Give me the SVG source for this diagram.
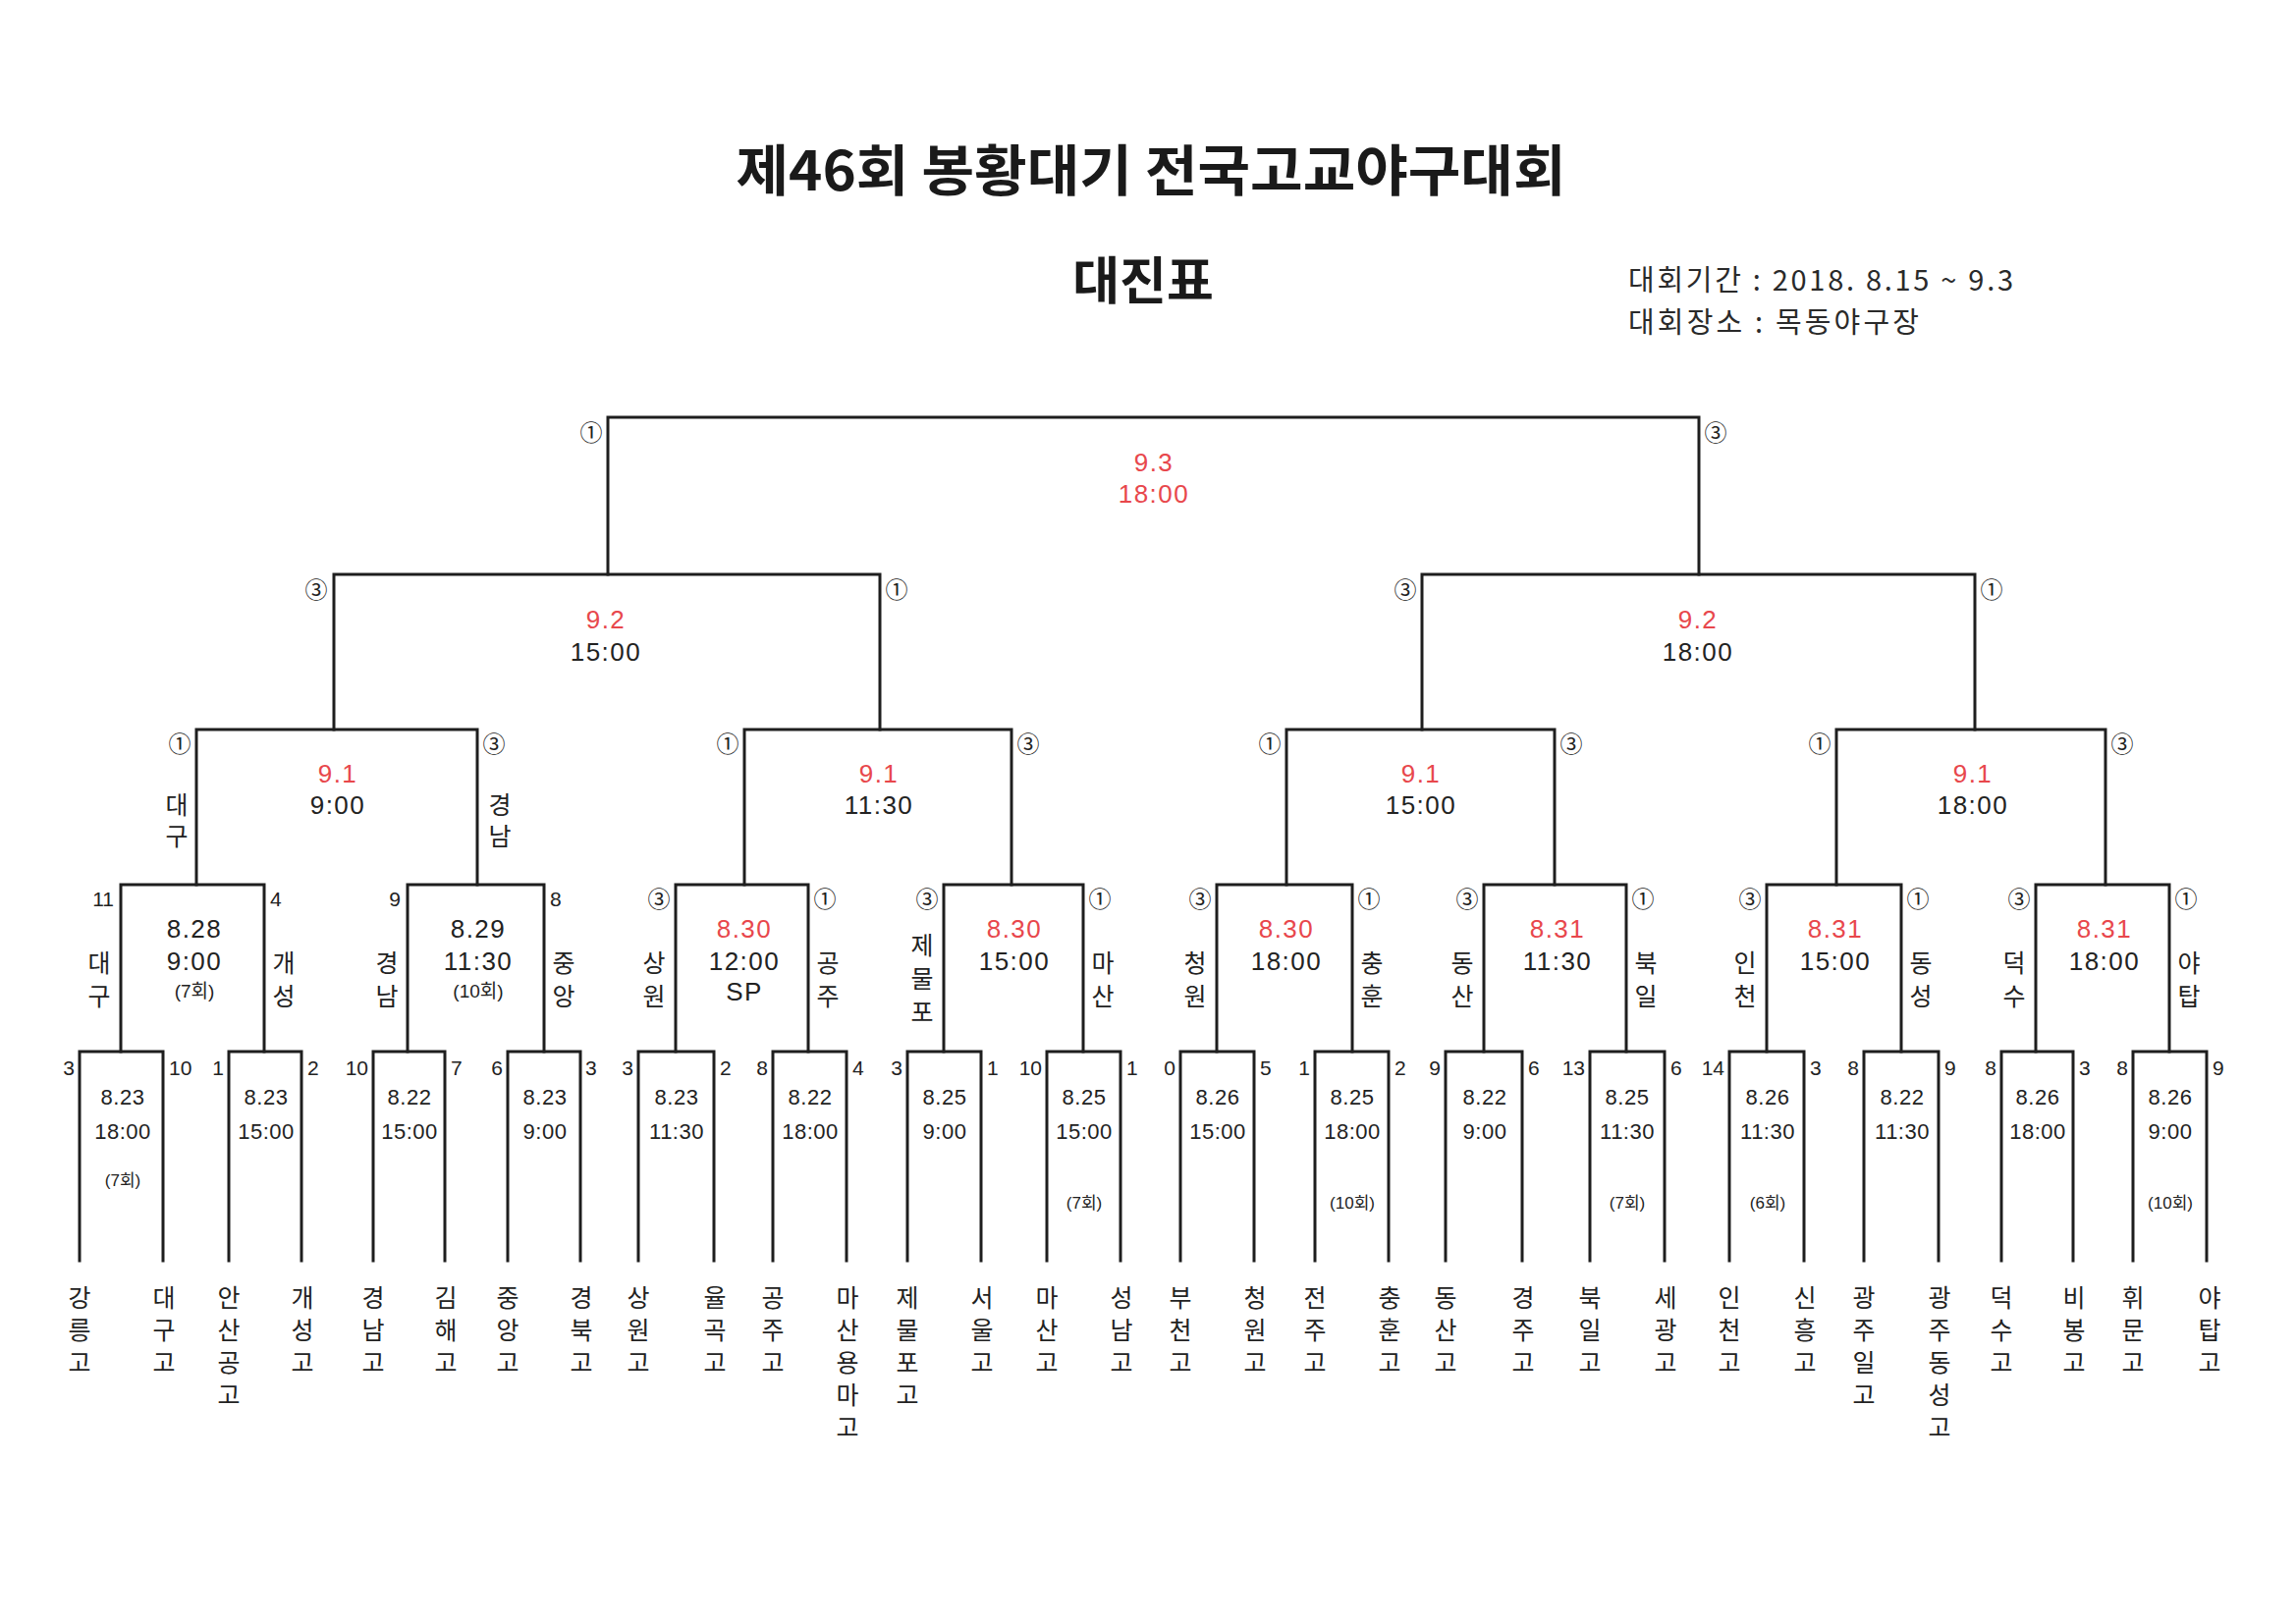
<svg xmlns="http://www.w3.org/2000/svg" width="2338" height="1653" viewBox="0 0 2338 1653">
<style>
text{font-family:'Liberation Sans','Noto Sans CJK KR',sans-serif;fill:#222;text-anchor:middle}
.ln{fill:none;stroke:#1e1e1e;stroke-width:3;stroke-linecap:square;stroke-linejoin:miter}
.ko{font-family:'Noto Sans CJK KR',sans-serif;font-size:25px}
.c{font-family:'Noto Sans CJK KR','DejaVu Sans',sans-serif;font-size:23px}
.s{font-size:21px}
.e{text-anchor:end}
.st{text-anchor:start}
.d1{font-size:22px;letter-spacing:0.5px}
.d2{font-size:26px;letter-spacing:1.5px}
.i1{font-size:17px}
.i2{font-size:19px}
.r{fill:#e8474c}
.t{font-family:'Noto Sans CJK KR',sans-serif;font-weight:700;fill:#1a1a1a}
.h{font-family:'Noto Sans CJK KR',sans-serif;font-size:29px;text-anchor:start;fill:#2a2a2a}
</style>
<rect width="2338" height="1653" fill="#fff"/>
<g id="header">
<text class="t" x="1172" y="194" font-size="56" textLength="845" lengthAdjust="spacingAndGlyphs">제46회 봉황대기 전국고교야구대회</text>
<text class="t" x="1164" y="305" font-size="52">대진표</text>
<text class="h" x="1658" y="296" textLength="392" lengthAdjust="spacing">대회기간 : 2018. 8.15 ~ 9.3</text>
<text class="h" x="1658" y="339" textLength="296" lengthAdjust="spacing">대회장소 : 목동야구장</text>
</g>
<g id="connectors">
<path class="ln" d="M619 585V425H1730V585"/>
<path class="ln" d="M340 743V585H896V743"/>
<path class="ln" d="M1448 743V585H2011V743"/>
<path class="ln" d="M200 901V743H486V901"/>
<path class="ln" d="M758 901V743H1030V901"/>
<path class="ln" d="M1310 901V743H1583V901"/>
<path class="ln" d="M1870 901V743H2144V901"/>
<path class="ln" d="M123 1071V901H269V1071"/>
<path class="ln" d="M415 1071V901H554V1071"/>
<path class="ln" d="M688 1071V901H823V1071"/>
<path class="ln" d="M961 1071V901H1103V1071"/>
<path class="ln" d="M1239 1071V901H1377V1071"/>
<path class="ln" d="M1511 1071V901H1656V1071"/>
<path class="ln" d="M1799 1071V901H1936V1071"/>
<path class="ln" d="M2073 1071V901H2209V1071"/>
<path class="ln" d="M81 1284V1071H166V1284"/>
<path class="ln" d="M233 1284V1071H307V1284"/>
<path class="ln" d="M380 1284V1071H453V1284"/>
<path class="ln" d="M517 1284V1071H591V1284"/>
<path class="ln" d="M650 1284V1071H727V1284"/>
<path class="ln" d="M787 1284V1071H862V1284"/>
<path class="ln" d="M924 1284V1071H999V1284"/>
<path class="ln" d="M1066 1284V1071H1141V1284"/>
<path class="ln" d="M1202 1284V1071H1277V1284"/>
<path class="ln" d="M1339 1284V1071H1414V1284"/>
<path class="ln" d="M1472 1284V1071H1550V1284"/>
<path class="ln" d="M1619 1284V1071H1695V1284"/>
<path class="ln" d="M1761 1284V1071H1837V1284"/>
<path class="ln" d="M1898 1284V1071H1974V1284"/>
<path class="ln" d="M2038 1284V1071H2111V1284"/>
<path class="ln" d="M2172 1284V1071H2247V1284"/>
</g>
<g id="final">
<text class="c" x="602" y="449">①</text><text class="c" x="1747" y="449">③</text>
<text class="d2 r" x="1175" y="480">9.3</text><text class="d2 r" x="1175" y="512">18:00</text>
</g>
<g id="semi-1">
<text class="c" x="322" y="609">③</text><text class="c" x="913" y="609">①</text>
<text class="d2 r" x="617" y="640">9.2</text><text class="d2" x="617" y="673">15:00</text>
</g>
<g id="semi-2">
<text class="c" x="1431" y="609">③</text><text class="c" x="2028" y="609">①</text>
<text class="d2 r" x="1729" y="640">9.2</text><text class="d2" x="1729" y="673">18:00</text>
</g>
<g id="qf-1">
<text class="c" x="183" y="766">①</text><text class="c" x="503" y="766">③</text>
<text class="d2 r" x="344" y="797">9.1</text><text class="d2" x="344" y="829">9:00</text>
<text class="ko" x="180" y="829">대</text><text class="ko" x="180" y="861">구</text>
<text class="ko" x="509" y="829">경</text><text class="ko" x="509" y="861">남</text>
</g>
<g id="qf-2">
<text class="c" x="741" y="766">①</text><text class="c" x="1047" y="766">③</text>
<text class="d2 r" x="895" y="797">9.1</text><text class="d2" x="895" y="829">11:30</text>
</g>
<g id="qf-3">
<text class="c" x="1293" y="766">①</text><text class="c" x="1600" y="766">③</text>
<text class="d2 r" x="1447" y="797">9.1</text><text class="d2" x="1447" y="829">15:00</text>
</g>
<g id="qf-4">
<text class="c" x="1853" y="766">①</text><text class="c" x="2161" y="766">③</text>
<text class="d2 r" x="2009" y="797">9.1</text><text class="d2" x="2009" y="829">18:00</text>
</g>
<g id="r16-1">
<text class="s e" x="116" y="923">11</text><text class="s st" x="275" y="923">4</text>
<text class="d2" x="198" y="955">8.28</text><text class="d2" x="198" y="988">9:00</text><text class="i2" x="198" y="1016">(7회)</text>
<text class="ko" x="101" y="990">대</text><text class="ko" x="101" y="1024">구</text>
<text class="ko" x="289" y="990">개</text><text class="ko" x="289" y="1024">성</text>
</g>
<g id="r16-2">
<text class="s e" x="408" y="923">9</text><text class="s st" x="560" y="923">8</text>
<text class="d2" x="487" y="955">8.29</text><text class="d2" x="487" y="988">11:30</text><text class="i2" x="487" y="1016">(10회)</text>
<text class="ko" x="394" y="990">경</text><text class="ko" x="394" y="1024">남</text>
<text class="ko" x="574" y="990">중</text><text class="ko" x="574" y="1024">앙</text>
</g>
<g id="r16-3">
<text class="c" x="671" y="924">③</text><text class="c" x="840" y="924">①</text>
<text class="d2 r" x="758" y="955">8.30</text><text class="d2" x="758" y="988">12:00</text><text class="d2" x="758" y="1019">SP</text>
<text class="ko" x="666" y="990">상</text><text class="ko" x="666" y="1024">원</text>
<text class="ko" x="843" y="990">공</text><text class="ko" x="843" y="1024">주</text>
</g>
<g id="r16-4">
<text class="c" x="944" y="924">③</text><text class="c" x="1120" y="924">①</text>
<text class="d2 r" x="1033" y="955">8.30</text><text class="d2" x="1033" y="988">15:00</text>
<text class="ko" x="939" y="972">제</text><text class="ko" x="939" y="1006">물</text><text class="ko" x="939" y="1040">포</text>
<text class="ko" x="1123" y="990">마</text><text class="ko" x="1123" y="1024">산</text>
</g>
<g id="r16-5">
<text class="c" x="1222" y="924">③</text><text class="c" x="1394" y="924">①</text>
<text class="d2 r" x="1310" y="955">8.30</text><text class="d2" x="1310" y="988">18:00</text>
<text class="ko" x="1217" y="990">청</text><text class="ko" x="1217" y="1024">원</text>
<text class="ko" x="1397" y="990">충</text><text class="ko" x="1397" y="1024">훈</text>
</g>
<g id="r16-6">
<text class="c" x="1494" y="924">③</text><text class="c" x="1673" y="924">①</text>
<text class="d2 r" x="1586" y="955">8.31</text><text class="d2" x="1586" y="988">11:30</text>
<text class="ko" x="1489" y="990">동</text><text class="ko" x="1489" y="1024">산</text>
<text class="ko" x="1676" y="990">북</text><text class="ko" x="1676" y="1024">일</text>
</g>
<g id="r16-7">
<text class="c" x="1782" y="924">③</text><text class="c" x="1953" y="924">①</text>
<text class="d2 r" x="1869" y="955">8.31</text><text class="d2" x="1869" y="988">15:00</text>
<text class="ko" x="1777" y="990">인</text><text class="ko" x="1777" y="1024">천</text>
<text class="ko" x="1956" y="990">동</text><text class="ko" x="1956" y="1024">성</text>
</g>
<g id="r16-8">
<text class="c" x="2056" y="924">③</text><text class="c" x="2226" y="924">①</text>
<text class="d2 r" x="2143" y="955">8.31</text><text class="d2" x="2143" y="988">18:00</text>
<text class="ko" x="2051" y="990">덕</text><text class="ko" x="2051" y="1024">수</text>
<text class="ko" x="2229" y="990">야</text><text class="ko" x="2229" y="1024">탑</text>
</g>
<g id="r32-1"><text class="s e" x="76" y="1095">3</text><text class="s st" x="172" y="1095">10</text><text class="d1" x="125" y="1125">8.23</text><text class="d1" x="125" y="1160">18:00</text><text class="i1" x="125" y="1208">(7회)</text></g>
<g id="r32-2"><text class="s e" x="228" y="1095">1</text><text class="s st" x="313" y="1095">2</text><text class="d1" x="271" y="1125">8.23</text><text class="d1" x="271" y="1160">15:00</text></g>
<g id="r32-3"><text class="s e" x="375" y="1095">10</text><text class="s st" x="459" y="1095">7</text><text class="d1" x="417" y="1125">8.22</text><text class="d1" x="417" y="1160">15:00</text></g>
<g id="r32-4"><text class="s e" x="512" y="1095">6</text><text class="s st" x="596" y="1095">3</text><text class="d1" x="555" y="1125">8.23</text><text class="d1" x="555" y="1160">9:00</text></g>
<g id="r32-5"><text class="s e" x="645" y="1095">3</text><text class="s st" x="733" y="1095">2</text><text class="d1" x="689" y="1125">8.23</text><text class="d1" x="689" y="1160">11:30</text></g>
<g id="r32-6"><text class="s e" x="782" y="1095">8</text><text class="s st" x="868" y="1095">4</text><text class="d1" x="825" y="1125">8.22</text><text class="d1" x="825" y="1160">18:00</text></g>
<g id="r32-7"><text class="s e" x="919" y="1095">3</text><text class="s st" x="1005" y="1095">1</text><text class="d1" x="962" y="1125">8.25</text><text class="d1" x="962" y="1160">9:00</text></g>
<g id="r32-8"><text class="s e" x="1061" y="1095">10</text><text class="s st" x="1147" y="1095">1</text><text class="d1" x="1104" y="1125">8.25</text><text class="d1" x="1104" y="1160">15:00</text><text class="i1" x="1104" y="1231">(7회)</text></g>
<g id="r32-9"><text class="s e" x="1197" y="1095">0</text><text class="s st" x="1283" y="1095">5</text><text class="d1" x="1240" y="1125">8.26</text><text class="d1" x="1240" y="1160">15:00</text></g>
<g id="r32-10"><text class="s e" x="1334" y="1095">1</text><text class="s st" x="1420" y="1095">2</text><text class="d1" x="1377" y="1125">8.25</text><text class="d1" x="1377" y="1160">18:00</text><text class="i1" x="1377" y="1231">(10회)</text></g>
<g id="r32-11"><text class="s e" x="1467" y="1095">9</text><text class="s st" x="1556" y="1095">6</text><text class="d1" x="1512" y="1125">8.22</text><text class="d1" x="1512" y="1160">9:00</text></g>
<g id="r32-12"><text class="s e" x="1614" y="1095">13</text><text class="s st" x="1701" y="1095">6</text><text class="d1" x="1657" y="1125">8.25</text><text class="d1" x="1657" y="1160">11:30</text><text class="i1" x="1657" y="1231">(7회)</text></g>
<g id="r32-13"><text class="s e" x="1756" y="1095">14</text><text class="s st" x="1843" y="1095">3</text><text class="d1" x="1800" y="1125">8.26</text><text class="d1" x="1800" y="1160">11:30</text><text class="i1" x="1800" y="1231">(6회)</text></g>
<g id="r32-14"><text class="s e" x="1893" y="1095">8</text><text class="s st" x="1980" y="1095">9</text><text class="d1" x="1937" y="1125">8.22</text><text class="d1" x="1937" y="1160">11:30</text></g>
<g id="r32-15"><text class="s e" x="2033" y="1095">8</text><text class="s st" x="2117" y="1095">3</text><text class="d1" x="2075" y="1125">8.26</text><text class="d1" x="2075" y="1160">18:00</text></g>
<g id="r32-16"><text class="s e" x="2167" y="1095">8</text><text class="s st" x="2253" y="1095">9</text><text class="d1" x="2210" y="1125">8.26</text><text class="d1" x="2210" y="1160">9:00</text><text class="i1" x="2210" y="1231">(10회)</text></g>
<g id="teams">
<text class="ko" x="81" y="1331"><tspan x="81">강</tspan><tspan x="81" dy="33">릉</tspan><tspan x="81" dy="33">고</tspan></text>
<text class="ko" x="167" y="1331"><tspan x="167">대</tspan><tspan x="167" dy="33">구</tspan><tspan x="167" dy="33">고</tspan></text>
<text class="ko" x="233" y="1331"><tspan x="233">안</tspan><tspan x="233" dy="33">산</tspan><tspan x="233" dy="33">공</tspan><tspan x="233" dy="33">고</tspan></text>
<text class="ko" x="308" y="1331"><tspan x="308">개</tspan><tspan x="308" dy="33">성</tspan><tspan x="308" dy="33">고</tspan></text>
<text class="ko" x="380" y="1331"><tspan x="380">경</tspan><tspan x="380" dy="33">남</tspan><tspan x="380" dy="33">고</tspan></text>
<text class="ko" x="454" y="1331"><tspan x="454">김</tspan><tspan x="454" dy="33">해</tspan><tspan x="454" dy="33">고</tspan></text>
<text class="ko" x="517" y="1331"><tspan x="517">중</tspan><tspan x="517" dy="33">앙</tspan><tspan x="517" dy="33">고</tspan></text>
<text class="ko" x="592" y="1331"><tspan x="592">경</tspan><tspan x="592" dy="33">북</tspan><tspan x="592" dy="33">고</tspan></text>
<text class="ko" x="650" y="1331"><tspan x="650">상</tspan><tspan x="650" dy="33">원</tspan><tspan x="650" dy="33">고</tspan></text>
<text class="ko" x="728" y="1331"><tspan x="728">율</tspan><tspan x="728" dy="33">곡</tspan><tspan x="728" dy="33">고</tspan></text>
<text class="ko" x="787" y="1331"><tspan x="787">공</tspan><tspan x="787" dy="33">주</tspan><tspan x="787" dy="33">고</tspan></text>
<text class="ko" x="863" y="1331"><tspan x="863">마</tspan><tspan x="863" dy="33">산</tspan><tspan x="863" dy="33">용</tspan><tspan x="863" dy="33">마</tspan><tspan x="863" dy="33">고</tspan></text>
<text class="ko" x="924" y="1331"><tspan x="924">제</tspan><tspan x="924" dy="33">물</tspan><tspan x="924" dy="33">포</tspan><tspan x="924" dy="33">고</tspan></text>
<text class="ko" x="1000" y="1331"><tspan x="1000">서</tspan><tspan x="1000" dy="33">울</tspan><tspan x="1000" dy="33">고</tspan></text>
<text class="ko" x="1066" y="1331"><tspan x="1066">마</tspan><tspan x="1066" dy="33">산</tspan><tspan x="1066" dy="33">고</tspan></text>
<text class="ko" x="1142" y="1331"><tspan x="1142">성</tspan><tspan x="1142" dy="33">남</tspan><tspan x="1142" dy="33">고</tspan></text>
<text class="ko" x="1202" y="1331"><tspan x="1202">부</tspan><tspan x="1202" dy="33">천</tspan><tspan x="1202" dy="33">고</tspan></text>
<text class="ko" x="1278" y="1331"><tspan x="1278">청</tspan><tspan x="1278" dy="33">원</tspan><tspan x="1278" dy="33">고</tspan></text>
<text class="ko" x="1339" y="1331"><tspan x="1339">전</tspan><tspan x="1339" dy="33">주</tspan><tspan x="1339" dy="33">고</tspan></text>
<text class="ko" x="1415" y="1331"><tspan x="1415">충</tspan><tspan x="1415" dy="33">훈</tspan><tspan x="1415" dy="33">고</tspan></text>
<text class="ko" x="1472" y="1331"><tspan x="1472">동</tspan><tspan x="1472" dy="33">산</tspan><tspan x="1472" dy="33">고</tspan></text>
<text class="ko" x="1551" y="1331"><tspan x="1551">경</tspan><tspan x="1551" dy="33">주</tspan><tspan x="1551" dy="33">고</tspan></text>
<text class="ko" x="1619" y="1331"><tspan x="1619">북</tspan><tspan x="1619" dy="33">일</tspan><tspan x="1619" dy="33">고</tspan></text>
<text class="ko" x="1696" y="1331"><tspan x="1696">세</tspan><tspan x="1696" dy="33">광</tspan><tspan x="1696" dy="33">고</tspan></text>
<text class="ko" x="1761" y="1331"><tspan x="1761">인</tspan><tspan x="1761" dy="33">천</tspan><tspan x="1761" dy="33">고</tspan></text>
<text class="ko" x="1838" y="1331"><tspan x="1838">신</tspan><tspan x="1838" dy="33">흥</tspan><tspan x="1838" dy="33">고</tspan></text>
<text class="ko" x="1898" y="1331"><tspan x="1898">광</tspan><tspan x="1898" dy="33">주</tspan><tspan x="1898" dy="33">일</tspan><tspan x="1898" dy="33">고</tspan></text>
<text class="ko" x="1975" y="1331"><tspan x="1975">광</tspan><tspan x="1975" dy="33">주</tspan><tspan x="1975" dy="33">동</tspan><tspan x="1975" dy="33">성</tspan><tspan x="1975" dy="33">고</tspan></text>
<text class="ko" x="2038" y="1331"><tspan x="2038">덕</tspan><tspan x="2038" dy="33">수</tspan><tspan x="2038" dy="33">고</tspan></text>
<text class="ko" x="2112" y="1331"><tspan x="2112">비</tspan><tspan x="2112" dy="33">봉</tspan><tspan x="2112" dy="33">고</tspan></text>
<text class="ko" x="2172" y="1331"><tspan x="2172">휘</tspan><tspan x="2172" dy="33">문</tspan><tspan x="2172" dy="33">고</tspan></text>
<text class="ko" x="2250" y="1331"><tspan x="2250">야</tspan><tspan x="2250" dy="33">탑</tspan><tspan x="2250" dy="33">고</tspan></text>
</g>
</svg>
